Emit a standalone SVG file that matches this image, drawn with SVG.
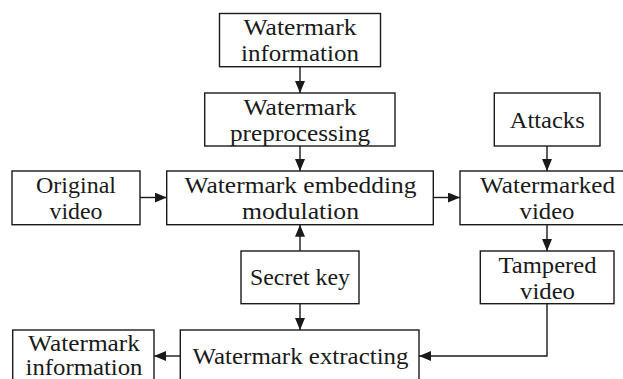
<svg xmlns="http://www.w3.org/2000/svg" width="623" height="379" viewBox="0 0 623 379">
<style>
.box{fill:#fff;stroke:#1a1a1a;stroke-width:1.4}
.t{font-family:"Liberation Serif","Times New Roman",serif;font-size:22.5px;fill:#1a1a1a;text-anchor:middle}
.ln{fill:none;stroke:#1a1a1a;stroke-width:1.4}
</style>
<defs>
<marker id="ah" markerWidth="12" markerHeight="10" refX="12" refY="5" orient="auto" markerUnits="userSpaceOnUse">
<path d="M0,0 L12,5 L0,10 Z" fill="#1a1a1a"/>
</marker>
</defs>
<rect width="623" height="379" fill="#fff"/>
<g id="connectors">
<line class="ln" x1="300" y1="66.7" x2="300" y2="93" marker-end="url(#ah)"/>
<line class="ln" x1="300" y1="146" x2="300" y2="171" marker-end="url(#ah)"/>
<line class="ln" x1="140" y1="197.5" x2="166.7" y2="197.5" marker-end="url(#ah)"/>
<line class="ln" x1="433.3" y1="197.5" x2="460" y2="197.5" marker-end="url(#ah)"/>
<line class="ln" x1="547" y1="146" x2="547" y2="171" marker-end="url(#ah)"/>
<line class="ln" x1="547" y1="224.7" x2="547" y2="251" marker-end="url(#ah)"/>
<line class="ln" x1="300" y1="251" x2="300" y2="224.7" marker-end="url(#ah)"/>
<line class="ln" x1="300" y1="303.7" x2="300" y2="330" marker-end="url(#ah)"/>
<polyline class="ln" points="547,303.7 547,356 419,356" marker-end="url(#ah)"/>
<line class="ln" x1="180.3" y1="356" x2="154" y2="356" marker-end="url(#ah)"/>
</g>
<g id="wm-info-top">
<rect class="box" x="219.5" y="13.5" width="161" height="53.2"/>
<text class="t" x="300" y="35.3" textLength="113" lengthAdjust="spacingAndGlyphs">Watermark</text>
<text class="t" x="300" y="61" textLength="118" lengthAdjust="spacingAndGlyphs">information</text>
</g>
<g id="wm-preprocessing">
<rect class="box" x="204.7" y="93" width="190.3" height="53"/>
<text class="t" x="300" y="115" textLength="113" lengthAdjust="spacingAndGlyphs">Watermark</text>
<text class="t" x="300" y="140.5" textLength="140" lengthAdjust="spacingAndGlyphs">preprocessing</text>
</g>
<g id="original-video">
<rect class="box" x="12" y="171" width="128" height="53.7"/>
<text class="t" x="76" y="193" textLength="80" lengthAdjust="spacingAndGlyphs">Original</text>
<text class="t" x="76" y="218.8" textLength="53" lengthAdjust="spacingAndGlyphs">video</text>
</g>
<g id="embedding">
<rect class="box" x="166.7" y="171" width="266.6" height="53.7"/>
<text class="t" x="300.5" y="193" textLength="232" lengthAdjust="spacingAndGlyphs">Watermark embedding</text>
<text class="t" x="300.5" y="218.8" textLength="117" lengthAdjust="spacingAndGlyphs">modulation</text>
</g>
<g id="attacks">
<rect class="box" x="494.3" y="93" width="105.7" height="53"/>
<text class="t" x="547.2" y="127.5" textLength="75" lengthAdjust="spacingAndGlyphs">Attacks</text>
</g>
<g id="watermarked-video">
<rect class="box" x="460" y="171" width="175" height="53.7"/>
<text class="t" x="547.5" y="193" textLength="135" lengthAdjust="spacingAndGlyphs">Watermarked</text>
<text class="t" x="547" y="218.8" textLength="55" lengthAdjust="spacingAndGlyphs">video</text>
</g>
<g id="secret-key">
<rect class="box" x="241" y="251" width="118" height="52.7"/>
<text class="t" x="300" y="285" textLength="100" lengthAdjust="spacingAndGlyphs">Secret key</text>
</g>
<g id="tampered-video">
<rect class="box" x="480.3" y="251" width="133.7" height="52.7"/>
<text class="t" x="547.5" y="273" textLength="98" lengthAdjust="spacingAndGlyphs">Tampered</text>
<text class="t" x="547.5" y="298.5" textLength="55" lengthAdjust="spacingAndGlyphs">video</text>
</g>
<g id="extracting">
<rect class="box" x="180.3" y="330" width="238.7" height="56"/>
<text class="t" x="300.5" y="363.5" textLength="216" lengthAdjust="spacingAndGlyphs">Watermark extracting</text>
</g>
<g id="wm-info-bottom">
<rect class="box" x="12.7" y="330" width="141.3" height="56"/>
<text class="t" x="84" y="350.5" textLength="112" lengthAdjust="spacingAndGlyphs">Watermark</text>
<text class="t" x="84" y="374.5" textLength="117" lengthAdjust="spacingAndGlyphs">information</text>
</g>
</svg>
